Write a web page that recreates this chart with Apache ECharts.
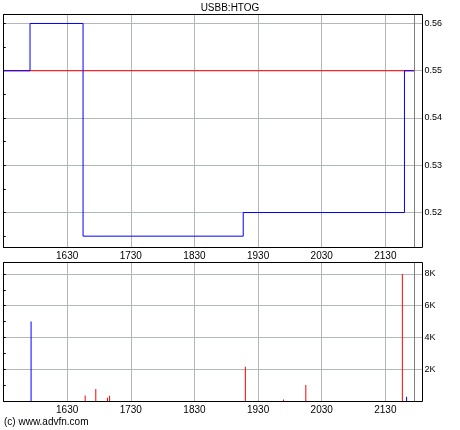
<!DOCTYPE html>
<html><head><meta charset="utf-8">
<script src="https://cdn.jsdelivr.net/npm/echarts@6/dist/echarts.min.js"></script>
<style>html,body{margin:0;padding:0;background:#fff}#c{width:460px;height:430px}</style>
</head><body><div id="c"></div>
<script>
const chartTitle = 'USBB:HTOG';
const credit = '(c) www.advfn.com';
const sessionStart = '15:30';
const sessionEnd = '22:05';
const nowTime = '21:57';
const xTickLabels = ['1630', '1730', '1830', '1930', '2030', '2130'];
const priceTimes = ['15:30', '15:55', '16:45', '19:16', '21:48', '21:58'];
const priceValues = [0.55, 0.56, 0.515, 0.52, 0.55, 0.55];
const prevClose = 0.55;
const priceMin = 0.5126, priceMax = 0.5619;
const priceTickLabels = ['0.52', '0.53', '0.54', '0.55', '0.56'];
const volTimes = ['15:56', '16:47', '16:57', '17:08', '17:10', '19:18', '19:54', '20:15', '21:46', '21:50'];
const volValues = [5000, 350, 750, 200, 330, 2150, 100, 1000, 8000, 270];
const volDirection = ['up', 'down', 'down', 'down', 'down', 'down', 'down', 'down', 'down', 'up'];
const volMax = 8716;
const volTickLabels = ['2K', '4K', '6K', '8K'];

const toMin = s => { const p = s.split(':').map(Number); return p[0] * 60 + p[1]; };
const t0 = toMin(sessionStart);
const tEnd = toMin(sessionEnd) - t0;
const tNow = toMin(nowTime) - t0;
const priceData = priceTimes.map((s, i) => [toMin(s) - t0, priceValues[i]]);
const prevData = [[0, prevClose], [toMin(priceTimes[priceTimes.length - 1]) - t0, prevClose]];
const volData = volTimes.map((s, i) => ({
  value: [toMin(s) - t0, volValues[i]],
  itemStyle: { color: volDirection[i] === 'up' ? '#0000ff' : '#ff0000' }
}));
const fmtTime = v => {
  const m = Math.round(v) + t0; const h = Math.floor(m / 60); const mm = m % 60;
  const s = String(h) + String(mm).padStart(2, '0');
  return xTickLabels.indexOf(s) >= 0 ? s : '';
};
const fmtPrice = v => { const s = v.toFixed(2); return priceTickLabels.indexOf(s) >= 0 && Math.abs(v - +s) < 1e-6 ? s : ''; };
const fmtVol = v => { const s = Math.round(v / 1000) + 'K'; return volTickLabels.indexOf(s) >= 0 && v % 1000 === 0 ? s : ''; };

const FONT = 'Liberation Sans';
const GRIDC = '#b0b8b8';
const SPLIT = { show: true, showMinLine: false, showMaxLine: false, lineStyle: { color: GRIDC, width: 1 } };
const xAxisBase = (gi) => ({
  type: 'value', gridIndex: gi, min: 0, max: tEnd, interval: 60,
  axisLine: { show: false }, axisTick: { show: false },
  axisLabel: { show: true, formatter: fmtTime, color: '#000', fontSize: 10, fontFamily: FONT, margin: 4, showMinLabel: false, showMaxLabel: false },
  splitLine: SPLIT
});
const yRight = (gi, min, max, fmt, extra) => Object.assign({
  type: 'value', gridIndex: gi, position: 'right', min: min, max: max,
  axisLine: { show: false },
  axisTick: { show: true, inside: false, length: 2, lineStyle: { color: '#000' } },
  minorTick: { show: true, splitNumber: 2, length: 2, lineStyle: { color: '#000' } },
  axisLabel: { formatter: fmt, color: '#000', fontSize: 9, fontFamily: FONT, margin: 2, showMinLabel: false, showMaxLabel: false },
  splitLine: SPLIT
}, extra || {});
const yLeft = (gi, min, max, extra) => Object.assign({
  type: 'value', gridIndex: gi, position: 'left', min: min, max: max,
  axisLine: { show: false },
  axisTick: { show: true, inside: true, length: 2, lineStyle: { color: '#000' } },
  minorTick: { show: true, splitNumber: 2, length: 2, lineStyle: { color: '#000' } },
  axisLabel: { show: false },
  splitLine: { show: false }
}, extra || {});

const chart = echarts.init(document.getElementById('c'), null, { renderer: 'canvas' });
chart.setOption({
  animation: false,
  backgroundColor: '#fff',
  title: [
    { text: chartTitle, left: 'center', top: 3, padding: 0, textStyle: { fontSize: 10, fontWeight: 'normal', color: '#000', fontFamily: FONT } },
    { text: credit, left: 4, top: 417, padding: 0, textStyle: { fontSize: 10, fontWeight: 'normal', color: '#000', fontFamily: FONT } }
  ],
  grid: [
    { left: 3.5, right: 37.5, top: 14.5, height: 233, show: false, containLabel: false },
    { left: 3.5, right: 37.5, top: 262.5, height: 138.5, show: false, containLabel: false }
  ],
  xAxis: [xAxisBase(0), xAxisBase(1)],
  yAxis: [
    yRight(0, priceMin, priceMax, fmtPrice, { splitNumber: 5 }),
    yRight(1, 0, volMax, fmtVol, { interval: 2000 }),
    yLeft(0, priceMin, priceMax, { splitNumber: 5 }),
    yLeft(1, 0, volMax, { interval: 2000 })
  ],
  series: [
    { type: 'line', xAxisIndex: 0, yAxisIndex: 0, data: prevData, symbol: 'none', lineStyle: { color: '#ff0000', width: 1 }, z: 2,
      markLine: { silent: true, symbol: 'none', label: { show: false }, lineStyle: { color: '#808080', width: 1, type: 'solid' }, data: [{ xAxis: tNow }] } },
    { type: 'line', xAxisIndex: 0, yAxisIndex: 0, data: priceData, step: 'end', symbol: 'none', lineStyle: { color: '#0000ff', width: 1 }, z: 3 },
    { type: 'bar', xAxisIndex: 1, yAxisIndex: 1, data: volData, barWidth: 1, z: 3,
      markLine: { silent: true, symbol: 'none', label: { show: false }, lineStyle: { color: '#808080', width: 1, type: 'solid' }, data: [{ xAxis: tNow }] } }
  ]
});
// frames drawn from the axes' own extents
const frame = (gi, yMin, yMax) => {
  const a = chart.convertToPixel({ gridIndex: gi }, [0, yMax]);
  const b = chart.convertToPixel({ gridIndex: gi }, [tEnd, yMin]);
  const x0 = Math.floor(a[0]) + 0.5, y0 = Math.floor(a[1]) + 0.5;
  const x1 = Math.floor(b[0]) + 0.5, y1 = Math.floor(b[1]) + 0.5;
  return { type: 'rect', z: 100, silent: true, shape: { x: x0, y: y0, width: x1 - x0, height: y1 - y0 },
    style: { fill: null, stroke: '#000', lineWidth: 1 } };
};
chart.setOption({ graphic: [frame(0, priceMin, priceMax), frame(1, 0, volMax)] });
</script>
</body></html>
